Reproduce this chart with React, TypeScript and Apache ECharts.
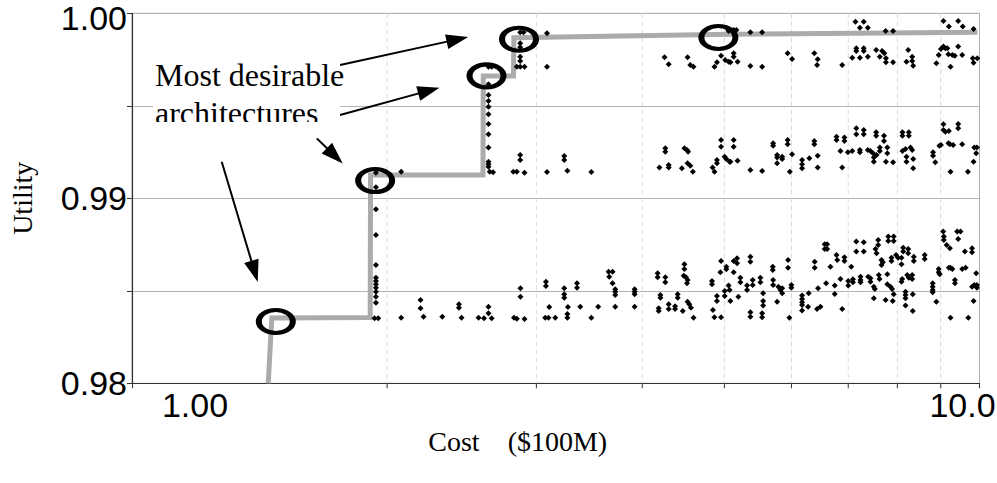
import React, { useEffect, useRef } from "react";
import * as echarts from "echarts";

// ---- axes ----
const xMin = 1;
const xMax = 10;
const xMinorValues = [2, 3, 4, 5, 6, 7, 8, 9];
const yMin = 0.98;
const yMax = 1.0;
const yInterval = 0.005;

// ---- Pareto front (grey step line) [cost, utility] ----
const frontier: [number, number][] = [
  [1.448, 0.98], [1.462, 0.98353], [1.91, 0.98356], [1.912, 0.99126],
  [2.595, 0.99126], [2.597, 0.99661], [2.819, 0.99661], [2.822, 0.99868],
  [5.08, 0.99887], [9.946, 0.99897],
];

// ---- circled "most desirable" architectures ----
const highlighted: [number, number][] = [
  [1.478, 0.98334], [1.936, 0.99096], [2.62, 0.99662], [2.862, 0.9986], [4.919, 0.99869],
];

// ---- architectures (black dots) ----
const stepColumns: [number, number][] = [
  [1.933, 0.98352], [1.952, 0.98352], [1.94, 0.98436], [1.94, 0.98468], [1.94, 0.98495], [1.94, 0.98517],
  [1.94, 0.98535], [1.94, 0.98553], [1.94, 0.98571], [1.94, 0.9864], [1.94, 0.98802], [1.94, 0.98941],
  [1.94, 0.9906], [1.94, 0.99138], [2.078, 0.99144],
  [2.634, 0.99616], [2.634, 0.99558], [2.634, 0.99526], [2.634, 0.99495], [2.634, 0.99454], [2.634, 0.99402],
  [2.634, 0.99346], [2.634, 0.99274], [2.634, 0.99198], [2.634, 0.99184], [2.634, 0.99171], [2.634, 0.99711],
  [2.657, 0.99711],
  [2.871, 0.99897], [2.871, 0.99838], [2.871, 0.99816], [2.871, 0.99765], [2.871, 0.99742], [2.871, 0.99711],
  [2.845, 0.99711], [2.905, 0.99711], [2.897, 0.99897], [3.088, 0.99892], [3.088, 0.99711],
];

const lowerBand: [number, number][] = [
  [2.078, 0.98355], [2.19, 0.9845], [2.19, 0.98406], [2.208, 0.9836], [2.323, 0.9836], [2.431, 0.98427],
  [2.431, 0.98409], [2.448, 0.98355], [2.564, 0.98355], [2.602, 0.98352], [2.634, 0.98414], [2.634, 0.98379],
  [2.657, 0.98352], [2.823, 0.98355], [2.845, 0.98349], [2.905, 0.98348], [2.873, 0.98514], [2.873, 0.98468],
  [3.079, 0.98549], [3.079, 0.98526], [3.107, 0.98413], [3.073, 0.98355], [3.1, 0.98355], [3.158, 0.98355],
  [3.236, 0.98514], [3.236, 0.98481], [3.236, 0.98463], [3.269, 0.98413], [3.264, 0.98375], [3.264, 0.98355],
  [3.35, 0.98541], [3.35, 0.98517], [3.38, 0.98414], [3.483, 0.98355], [3.549, 0.98414], [3.65, 0.98603],
  [3.69, 0.98603], [3.657, 0.98576], [3.69, 0.98541], [3.717, 0.98508], [3.717, 0.98495], [3.717, 0.98477],
  [3.717, 0.98414], [3.918, 0.98508], [3.918, 0.98495], [3.918, 0.98481], [3.918, 0.98414],
  [4.171, 0.98595], [4.171, 0.98573], [4.259, 0.98573], [4.259, 0.98546], [4.202, 0.98477], [4.202, 0.98463],
  [4.183, 0.98406], [4.183, 0.98391], [4.298, 0.98427], [4.298, 0.98402], [4.373, 0.98416], [4.373, 0.98402],
  [4.404, 0.98481], [4.404, 0.98463], [4.485, 0.98643], [4.485, 0.98618], [4.477, 0.98582], [4.505, 0.98573],
  [4.524, 0.98559], [4.517, 0.98541], [4.465, 0.98391], [4.524, 0.98441], [4.545, 0.98427], [4.566, 0.98409],
  [4.598, 0.98355],
  [4.835, 0.98553], [4.835, 0.98535], [4.847, 0.98396], [4.866, 0.98357], [4.955, 0.98357], [4.9, 0.98472],
  [4.9, 0.98445], [4.955, 0.98661], [4.946, 0.986], [5.026, 0.9863], [5.026, 0.98616], [5.004, 0.98499],
  [5.004, 0.98472], [5.057, 0.98528], [5.071, 0.98504], [5.082, 0.98445], [5.128, 0.98661], [5.175, 0.98676],
  [5.175, 0.98649], [5.128, 0.986], [5.222, 0.98571], [5.222, 0.98546], [5.194, 0.98468], [5.318, 0.98528],
  [5.318, 0.98504], [5.366, 0.98684], [5.366, 0.98657], [5.4, 0.98559], [5.4, 0.98531], [5.366, 0.98384],
  [5.366, 0.9836], [5.514, 0.98571], [5.514, 0.98546], [5.555, 0.98487], [5.555, 0.98445], [5.555, 0.9842],
  [5.54, 0.98379], [5.54, 0.98357], [5.702, 0.9863], [5.702, 0.98613], [5.708, 0.98559], [5.708, 0.98531],
  [5.79, 0.98522], [5.823, 0.98504], [5.85, 0.98487], [5.85, 0.98514], [5.77, 0.98441], [5.945, 0.98667],
  [5.945, 0.98625], [5.998, 0.98531], [5.998, 0.98517], [5.966, 0.98355], [6.175, 0.98474], [6.175, 0.98456],
  [6.175, 0.98438], [6.175, 0.98423], [6.175, 0.98393], [6.287, 0.98487], [6.277, 0.98414], [6.39, 0.98657],
  [6.39, 0.98625], [6.449, 0.98514], [6.432, 0.98402], [6.491, 0.98414], [6.567, 0.98751], [6.61, 0.98751],
  [6.567, 0.98726], [6.61, 0.98726], [6.592, 0.98541], [6.67, 0.9863], [6.749, 0.98528], [6.749, 0.98483],
  [6.781, 0.98694], [6.794, 0.98667], [6.854, 0.98564], [6.886, 0.98402], [6.929, 0.98681], [6.929, 0.98661],
  [7.0, 0.98553], [7.0, 0.98528], [7.058, 0.9863], [7.09, 0.98562], [7.09, 0.98546], [7.155, 0.98766],
  [7.155, 0.98712], [7.237, 0.98576], [7.237, 0.98559], [7.237, 0.98546], [7.302, 0.98762], [7.302, 0.98712],
  [7.39, 0.98576], [7.436, 0.98568], [7.436, 0.98549], [7.504, 0.98522], [7.525, 0.9851], [7.504, 0.9846],
  [7.539, 0.98726], [7.56, 0.98703], [7.594, 0.98775], [7.594, 0.98748], [7.662, 0.98667], [7.69, 0.98654],
  [7.662, 0.9864], [7.607, 0.98586], [7.621, 0.98564], [7.785, 0.98589], [7.785, 0.98535], [7.852, 0.98522],
  [7.887, 0.9851], [7.749, 0.9845], [7.921, 0.98481], [7.9, 0.98445], [7.806, 0.98793], [7.921, 0.98793],
  [7.806, 0.98769], [7.921, 0.98769], [7.873, 0.98679], [7.873, 0.98661], [7.972, 0.98694], [8.015, 0.98679],
  [8.09, 0.98549], [8.105, 0.98564], [8.127, 0.98733], [8.127, 0.98712], [8.09, 0.98679], [8.09, 0.98643],
  [8.179, 0.98495], [8.179, 0.98477], [8.179, 0.9846], [8.179, 0.9842], [8.217, 0.98586], [8.253, 0.98571],
  [8.329, 0.98586], [8.329, 0.98564], [8.239, 0.98726], [8.239, 0.98703], [8.342, 0.98481], [8.342, 0.98391],
  [8.365, 0.98684], [8.365, 0.98661], [8.617, 0.98694], [8.617, 0.98672], [8.806, 0.98541], [8.806, 0.98522],
  [8.806, 0.98504], [8.806, 0.98492], [8.895, 0.98441], [8.951, 0.98618], [8.951, 0.986], [8.975, 0.98589],
  [9.06, 0.9882], [9.076, 0.98793], [9.076, 0.98775], [9.145, 0.98748], [9.226, 0.9873], [9.202, 0.98625],
  [9.243, 0.98625], [9.29, 0.98618], [9.354, 0.98559], [9.354, 0.98541], [9.243, 0.98355], [9.412, 0.9882],
  [9.497, 0.9882], [9.437, 0.9878], [9.54, 0.98618], [9.63, 0.98625], [9.61, 0.98712], [9.7, 0.98355],
  [9.8, 0.9873], [9.8, 0.98708], [9.8, 0.98522], [9.86, 0.98531], [9.93, 0.98531], [9.93, 0.98517],
  [9.91, 0.98595], [9.84, 0.98445],
];

const middleBand: [number, number][] = [
  [2.643, 0.99144], [2.667, 0.99141], [2.871, 0.99234], [2.871, 0.99207], [2.818, 0.99144], [2.845, 0.99144],
  [2.905, 0.99138], [3.088, 0.99142], [3.236, 0.99229], [3.236, 0.99207], [3.264, 0.99149], [3.483, 0.99142],
  [4.191, 0.99166], [4.259, 0.9927], [4.259, 0.99252], [4.298, 0.9918], [4.298, 0.99166], [4.455, 0.99162],
  [4.485, 0.9927], [4.517, 0.99261], [4.53, 0.99252], [4.524, 0.99189], [4.558, 0.99176], [4.59, 0.99144],
  [4.842, 0.99166], [4.868, 0.99144], [4.9, 0.99207], [4.9, 0.99189], [4.955, 0.99315], [4.955, 0.99279],
  [5.004, 0.99225], [5.026, 0.99213], [5.071, 0.99198], [5.128, 0.99315], [5.128, 0.99279], [5.082, 0.99198],
  [5.182, 0.99203], [5.366, 0.99153], [5.54, 0.99148], [5.708, 0.99297], [5.708, 0.99284], [5.77, 0.99234],
  [5.77, 0.9922], [5.85, 0.99225], [5.85, 0.99213], [5.77, 0.99189], [5.937, 0.99315], [5.937, 0.99292],
  [6.01, 0.99238], [5.973, 0.99144], [6.175, 0.99207], [6.175, 0.99184], [6.175, 0.99162], [6.299, 0.99216],
  [6.384, 0.9931], [6.384, 0.99292], [6.443, 0.9923], [6.443, 0.99166], [6.781, 0.99333], [6.781, 0.99315],
  [6.929, 0.99328], [6.929, 0.9931], [6.854, 0.99256], [6.886, 0.99166], [6.993, 0.99249], [7.077, 0.99256],
  [7.225, 0.99261], [7.225, 0.99249], [7.155, 0.99378], [7.155, 0.99346], [7.302, 0.99369], [7.302, 0.99346],
  [7.383, 0.99261], [7.436, 0.99256], [7.489, 0.99243], [7.504, 0.9922], [7.56, 0.99234], [7.553, 0.99357],
  [7.553, 0.99338], [7.715, 0.99338], [7.715, 0.9931], [7.504, 0.99198], [7.628, 0.99274], [7.628, 0.99256],
  [7.785, 0.99274], [7.785, 0.99243], [7.756, 0.99198], [7.907, 0.99195], [8.111, 0.99357], [8.111, 0.99338],
  [8.253, 0.99357], [8.253, 0.99338], [8.111, 0.99256], [8.179, 0.99267], [8.291, 0.99274], [8.329, 0.99261],
  [8.201, 0.99225], [8.201, 0.99198], [8.351, 0.99213], [8.351, 0.99162], [8.815, 0.99249], [8.815, 0.9923],
  [8.868, 0.99195], [8.967, 0.99284], [9.005, 0.99288], [9.19, 0.99297], [9.23, 0.99292], [9.31, 0.99288],
  [9.54, 0.99292], [9.067, 0.994], [9.067, 0.99369], [9.113, 0.9936], [9.202, 0.99364], [9.437, 0.99402],
  [9.437, 0.99378], [9.243, 0.99144], [9.69, 0.99144], [9.86, 0.99274], [9.93, 0.99274], [9.91, 0.99243],
  [9.84, 0.99198],
];

const upperBand: [number, number][] = [
  [4.25, 0.99762], [4.298, 0.99724], [4.524, 0.99762], [4.558, 0.99721], [4.598, 0.99711], [4.868, 0.99711],
  [4.9, 0.99735], [4.955, 0.99771], [5.011, 0.99748], [5.057, 0.99738], [5.036, 0.99919], [5.057, 0.99904],
  [5.128, 0.9991], [5.166, 0.9991], [5.128, 0.99784], [5.128, 0.99765], [5.082, 0.99735], [5.182, 0.99738],
  [5.366, 0.99715], [5.54, 0.99711], [5.366, 0.99897], [5.54, 0.99897], [5.937, 0.99784], [6.01, 0.99753],
  [6.384, 0.99784], [6.443, 0.99751], [6.432, 0.99721], [6.886, 0.99721], [7.139, 0.99955], [7.302, 0.99955],
  [7.225, 0.99922], [7.383, 0.99922], [7.749, 0.99904], [7.907, 0.99904], [7.155, 0.99811], [7.155, 0.99796],
  [7.302, 0.99811], [7.302, 0.99796], [7.077, 0.9976], [7.225, 0.9976], [7.383, 0.99765], [7.553, 0.99802],
  [7.675, 0.99796], [7.721, 0.99784], [7.628, 0.99765], [7.756, 0.99757], [7.756, 0.99735], [7.907, 0.99735],
  [8.239, 0.99802], [8.201, 0.99738], [8.329, 0.99765], [8.329, 0.99742], [8.351, 0.99717], [9.067, 0.99958],
  [9.202, 0.99928], [9.437, 0.99958], [9.555, 0.99928], [9.84, 0.99915], [9.067, 0.9982], [9.113, 0.99811],
  [9.165, 0.99811], [9.005, 0.99807], [8.951, 0.99775], [9.19, 0.99778], [9.29, 0.99775], [9.35, 0.99771],
  [8.895, 0.9973], [9.243, 0.99711], [9.437, 0.9982], [9.54, 0.99775], [9.82, 0.99757], [9.94, 0.99757],
  [9.84, 0.99733],
];

// ---- annotation arrows: [tail, head] in [cost, utility] ----
const arrowTails: [number, number][] = [
  [1.76, 0.99721], [1.76, 0.9945], [1.652, 0.99324], [1.276, 0.99198],
];
const arrowHeads: [number, number][] = [
  [2.421, 0.99859], [2.24, 0.99582], [1.735, 0.9923], [1.395, 0.98605],
];

const annotationLines = ["Most desirable", "architectures"];
const xAxisTitle = "Cost    ($100M)";
const yAxisTitle = "Utility";

const SERIF = '"Liberation Serif", "Times New Roman", serif';
const SANS = '"Liberation Sans", Arial, sans-serif';
const TICK_FONT = 34;

export default function App() {
  const ref = useRef<HTMLDivElement>(null);

  useEffect(() => {
    if (!ref.current) return;
    const chart = echarts.init(ref.current, undefined, { renderer: "svg" });

    const option: any = {
      animation: false,
      backgroundColor: "#ffffff",
      grid: {
        left: 132, right: 17.5, top: 13.3, bottom: 99.7,
        containLabel: false, outerBoundsMode: "none",
        show: true, borderColor: "#b0b0b0", borderWidth: 1, backgroundColor: "transparent",
      },
      xAxis: {
        type: "log", logBase: 10, min: xMin, max: xMax,
        name: xAxisTitle, nameLocation: "middle", nameGap: 44,
        nameTextStyle: { fontFamily: SERIF, fontSize: 28, color: "#000", padding: [0, 76, 0, 0] },
        axisLine: { show: true, lineStyle: { color: "#333", width: 1.2 } },
        axisTick: { show: true, inside: false, length: 5, lineStyle: { color: "#333" } },
        splitLine: { show: false },
        axisLabel: {
          margin: 5,
          formatter: (v: number) => {
            if (Math.abs(v - 1) < 1e-6) return "{a|1.00}";
            if (Math.abs(v - 10) < 1e-6) return "{b|10.0}";
            return "";
          },
          rich: {
            a: { fontFamily: SANS, fontSize: TICK_FONT, color: "#000", padding: [0, 0, 0, 126] },
            b: { fontFamily: SANS, fontSize: TICK_FONT, color: "#000", padding: [0, 34, 0, 0] },
          },
        },
      },
      yAxis: {
        type: "value", min: yMin, max: yMax, interval: yInterval,
        name: yAxisTitle, nameLocation: "middle", nameGap: 96, nameRotate: 90,
        nameTextStyle: { fontFamily: SERIF, fontSize: 28, color: "#000" },
        axisLine: { show: true, lineStyle: { color: "#333", width: 1.2 } },
        axisTick: { show: true, inside: false, length: 5, lineStyle: { color: "#333" } },
        splitLine: { show: true, lineStyle: { color: "#b4b4b4", width: 1 } },
        axisLabel: {
          margin: 5,
          formatter: (v: number) => {
            const h = v * 100;
            if (Math.abs(h - Math.round(h)) > 1e-6) return "";
            return Math.abs(v - yMax) < 1e-9 ? `{top|${v.toFixed(2)}}` : `{n|${v.toFixed(2)}}`;
          },
          rich: {
            n: { fontFamily: SANS, fontSize: TICK_FONT, color: "#000" },
            top: { fontFamily: SANS, fontSize: TICK_FONT, lineHeight: 24, color: "#000", padding: [9, 0, 0, 0] },
          },
        },
      },
      series: [
        {
          name: "minor grid",
          type: "custom",
          clip: false,
          silent: true,
          z: 1,
          data: xMinorValues.map((v) => [v, yMin]),
          renderItem: (_params: any, api: any) => {
            const v = api.value(0);
            const top = api.coord([v, yMax]);
            const bottom = api.coord([v, yMin]);
            return {
              type: "group",
              children: [
                {
                  type: "line",
                  shape: { x1: top[0], y1: top[1], x2: bottom[0], y2: bottom[1] },
                  style: { stroke: "#dcdcdc", lineWidth: 1, lineDash: [5, 3] },
                },
                {
                  type: "line",
                  shape: { x1: bottom[0], y1: bottom[1], x2: bottom[0], y2: bottom[1] + 5 },
                  style: { stroke: "#333", lineWidth: 1 },
                },
              ],
            };
          },
        },
        {
          name: "frontier",
          type: "line",
          data: frontier,
          symbol: "none",
          silent: true,
          z: 2,
          lineStyle: { color: "#ababab", width: 5, join: "miter", opacity: 1 },
        },
        {
          name: "architectures",
          type: "scatter",
          data: [...stepColumns, ...lowerBand, ...middleBand, ...upperBand],
          symbol: "diamond",
          symbolSize: [6, 6],
          silent: true,
          z: 3,
          itemStyle: { color: "#000", opacity: 1 },
        },
        {
          name: "most desirable",
          type: "scatter",
          data: highlighted,
          symbol: "path://M0,1 A1,1 0 1,1 2,1 A1,1 0 1,1 0,1 Z",
          symbolSize: [34, 23],
          silent: true,
          z: 4,
          itemStyle: { color: "rgba(0,0,0,0)", borderColor: "#000", borderWidth: 5, opacity: 1 },
          markLine: {
            silent: true,
            symbolSize: [15, 22],
            label: { show: false },
            lineStyle: { color: "#000", width: 2, type: "solid", opacity: 1 },
            itemStyle: { color: "#000" },
            emphasis: { disabled: true },
            data: arrowTails.map((t, i) => [
              { coord: t, symbol: "none" },
              { coord: arrowHeads[i], symbol: "triangle" },
            ]),
          },
        },
      ],
      graphic: [
        { type: "rect", z: 100, shape: { x: 153, y: 58, width: 187, height: 64 }, style: { fill: "#fff" } },
        {
          type: "text", z: 101, x: 155, y: 75,
          style: { text: annotationLines[0], font: `32px ${SERIF}`, fill: "#000", verticalAlign: "middle" },
        },
        {
          type: "text", z: 101, x: 155, y: 113,
          style: { text: annotationLines[1], font: `32px ${SERIF}`, fill: "#000", verticalAlign: "middle" },
        },
        { type: "rect", z: 102, shape: { x: 153, y: 122, width: 187, height: 9 }, style: { fill: "#fff" } },
      ],
    };

    chart.setOption(option);
    return () => chart.dispose();
  }, []);

  return (
    <div
      ref={ref}
      style={{ position: "fixed", left: 0, top: 0, width: 997, height: 483, background: "#fff" }}
    />
  );
}
